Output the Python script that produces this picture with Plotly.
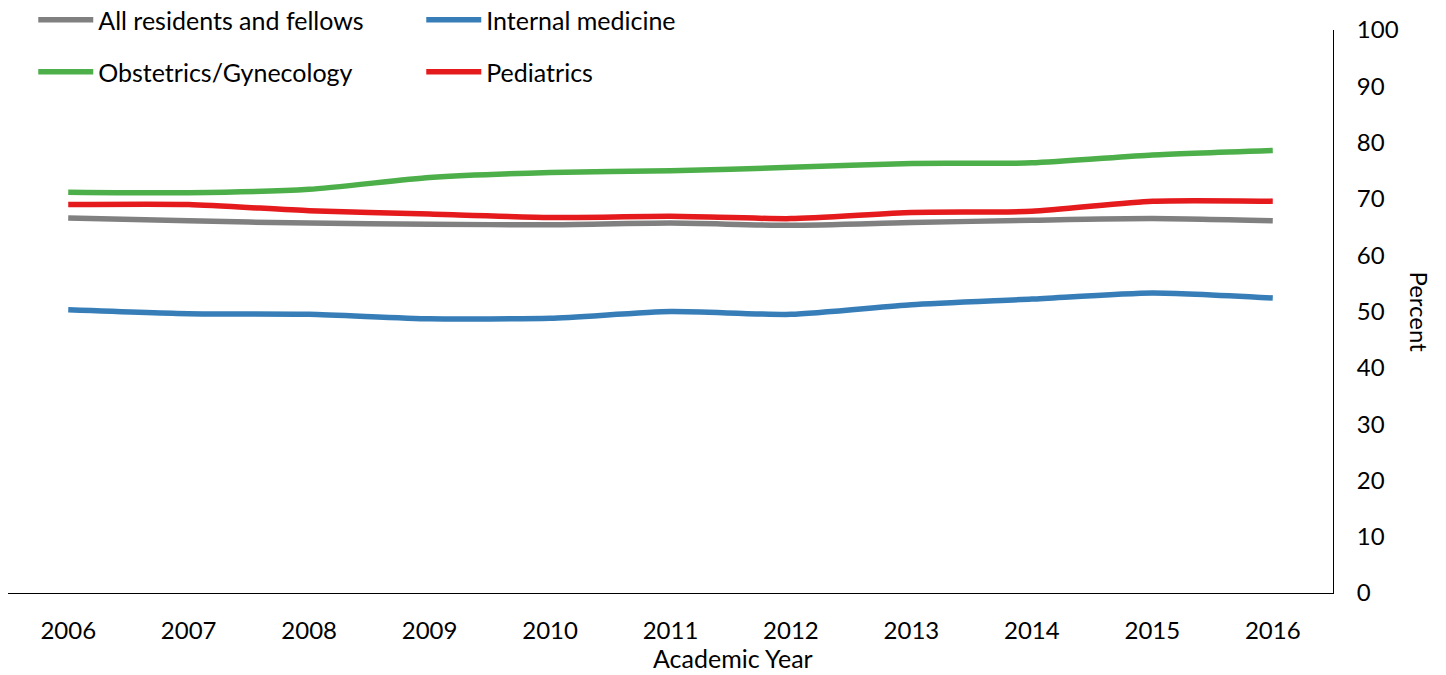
import plotly.graph_objects as go

years = ["2006", "2007", "2008", "2009", "2010", "2011", "2012", "2013", "2014", "2015", "2016"]
all_residents = [66.6, 66.1, 65.7, 65.5, 65.4, 65.7, 65.3, 65.8, 66.2, 66.5, 66.1]
internal_medicine = [50.3, 49.6, 49.5, 48.7, 48.8, 50.0, 49.5, 51.2, 52.2, 53.3, 52.4]
obgyn = [71.2, 71.1, 71.7, 73.8, 74.7, 75.0, 75.6, 76.3, 76.4, 77.8, 78.6]
pediatrics = [69.0, 69.0, 67.9, 67.3, 66.7, 66.9, 66.5, 67.6, 67.8, 69.6, 69.6]
y_ticks = [0, 10, 20, 30, 40, 50, 60, 70, 80, 90, 100]

FONT = "Lato"
series = [
    ("All residents and fellows", all_residents, "#808080", "legend"),
    ("Internal medicine", internal_medicine, "#377EB8", "legend"),
    ("Obstetrics/Gynecology", obgyn, "#4DAF4A", "legend2"),
    ("Pediatrics", pediatrics, "#E41A1C", "legend2"),
]

fig = go.Figure()
for name, vals, color, leg in series:
    fig.add_trace(go.Scatter(
        x=years, y=vals, name=name, mode="lines",
        line=dict(color=color, width=5.5, shape="spline", smoothing=0.6),
        legend=leg,
    ))

legend_common = dict(
    orientation="h", xref="container", yref="container",
    xanchor="left", yanchor="middle",
    font=dict(family=FONT, size=25, color="#000000"),
    entrywidth=318, itemwidth=55, bgcolor="rgba(0,0,0,0)",
    traceorder="normal",
)
fig.update_layout(
    width=1446, height=675,
    margin=dict(l=8, r=113, t=30, b=82, autoexpand=False),
    paper_bgcolor="white", plot_bgcolor="white",
    font=dict(family=FONT, size=24, color="#000000"),
    showlegend=True,
    legend=dict(x=0.023, y=1 - 20 / 675, **legend_common),
    legend2=dict(x=0.023, y=1 - 72 / 675, **legend_common),
    xaxis=dict(
        type="category", range=[-0.5, 10.5],
        showgrid=False, zeroline=False,
        showline=True, linecolor="#000000", linewidth=1,
        ticks="", ticklabelstandoff=16,
        tickfont=dict(family=FONT, size=24),
    ),
    yaxis=dict(
        side="right", range=[0, 100],
        tickvals=y_ticks, showgrid=False, zeroline=False,
        showline=True, linecolor="#000000", linewidth=1,
        ticks="", ticklabelstandoff=18,
        tickfont=dict(family=FONT, size=24),
    ),
    annotations=[
        dict(
            text="Percent", xref="paper", yref="paper",
            x=1.065, y=0.5, xanchor="center", yanchor="middle",
            textangle=90, showarrow=False,
            font=dict(family=FONT, size=24, color="#000000"),
        ),
        dict(
            text="Academic Year", xref="paper", yref="paper",
            x=0.547, y=-0.1439, xanchor="center", yanchor="bottom",
            showarrow=False, borderpad=0,
            font=dict(family=FONT, size=25, color="#000000"),
        ),
    ],
)
fig.write_html("out.html")
